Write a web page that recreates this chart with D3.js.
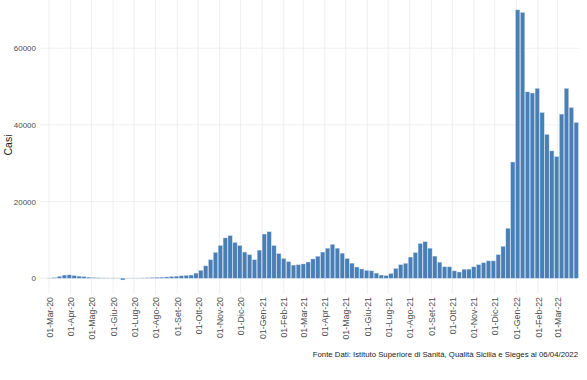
<!DOCTYPE html>
<html>
<head>
<meta charset="utf-8">
<script src="https://cdn.jsdelivr.net/npm/d3@7"></script>
<style>
  body { margin: 0; background: #fff; }
  text { font-family: "Liberation Sans", Arial, sans-serif; }
</style>
</head>
<body>
<div id="chart"></div>
<script>
// weekly periods (monday of each week)
const weeks = [
  "2020-03-02","2020-03-09","2020-03-16","2020-03-23","2020-03-30",
  "2020-04-06","2020-04-13","2020-04-20","2020-04-27",
  "2020-05-04","2020-05-11","2020-05-18","2020-05-25",
  "2020-06-01","2020-06-08","2020-06-15","2020-06-22","2020-06-29",
  "2020-07-06","2020-07-13","2020-07-20","2020-07-27",
  "2020-08-03","2020-08-10","2020-08-17","2020-08-24","2020-08-31",
  "2020-09-07","2020-09-14","2020-09-21","2020-09-28",
  "2020-10-05","2020-10-12","2020-10-19","2020-10-26",
  "2020-11-02","2020-11-09","2020-11-16","2020-11-23","2020-11-30",
  "2020-12-07","2020-12-14","2020-12-21","2020-12-28",
  "2021-01-04","2021-01-11","2021-01-18","2021-01-25",
  "2021-02-01","2021-02-08","2021-02-15","2021-02-22",
  "2021-03-01","2021-03-08","2021-03-15","2021-03-22","2021-03-29",
  "2021-04-05","2021-04-12","2021-04-19","2021-04-26",
  "2021-05-03","2021-05-10","2021-05-17","2021-05-24","2021-05-31",
  "2021-06-07","2021-06-14","2021-06-21","2021-06-28",
  "2021-07-05","2021-07-12","2021-07-19","2021-07-26",
  "2021-08-02","2021-08-09","2021-08-16","2021-08-23","2021-08-30",
  "2021-09-06","2021-09-13","2021-09-20","2021-09-27",
  "2021-10-04","2021-10-11","2021-10-18","2021-10-25",
  "2021-11-01","2021-11-08","2021-11-15","2021-11-22","2021-11-29",
  "2021-12-06","2021-12-13","2021-12-20","2021-12-27",
  "2022-01-03","2022-01-10","2022-01-17","2022-01-24","2022-01-31",
  "2022-02-07","2022-02-14","2022-02-21","2022-02-28",
  "2022-03-07","2022-03-14","2022-03-21","2022-03-28"
];

// weekly cases
const casi = [
  20, 120, 450, 800, 850,
  650, 500, 380, 250,
  150, 90, 60, 40,
  30, 20, -450, 15, 25,
  30, 50, 80, 150,
  200, 250, 300, 400, 500,
  600, 700, 800, 1300,
  2000, 3200, 4800, 6700,
  8500, 10500, 11100, 9300, 8500,
  6800, 6100, 4800, 7300,
  11500, 12100, 8500, 6400,
  5100, 4300, 3400, 3500,
  3700, 4200, 5000, 5700, 6800,
  7800, 8800, 7800, 6500,
  5100, 3900, 2900, 2400, 2000,
  1900, 1300, 800, 650,
  1200, 2500, 3500, 3850,
  5500, 6650, 9000, 9500, 7800,
  5750, 4150, 2950, 2950,
  1900, 1600, 2300, 2350,
  2950, 3500, 4000, 4500, 4500,
  6100, 8300, 13000, 30300,
  70000, 69300, 48600, 48300, 49500,
  43200, 37500, 33200, 31700,
  42800, 49500, 44500, 40600
];

const mesi = ["Gen","Feb","Mar","Apr","Mag","Giu","Lug","Ago","Set","Ott","Nov","Dic"];
const yTicks = [0, 20000, 40000, 60000];
const yTitle = "Casi";
const caption = "Fonte Dati: Istituto Superiore di Sanità, Qualità Sicilia e Sieges al 06/04/2022";

const W = 587, H = 380;
const panel = {left: 40, right: 579, top: -3.5, bottom: 293.5};

const parse = d3.timeParse("%Y-%m-%d");
const data = weeks.map((w, i) => ({date: parse(w), value: casi[i]}));

const itLocale = d3.timeFormatLocale({
  dateTime: "%A %e %B %Y, %X", date: "%d/%m/%Y", time: "%H:%M:%S",
  periods: ["AM", "PM"],
  days: ["Domenica","Lunedì","Martedì","Mercoledì","Giovedì","Venerdì","Sabato"],
  shortDays: ["Dom","Lun","Mar","Mer","Gio","Ven","Sab"],
  months: ["Gennaio","Febbraio","Marzo","Aprile","Maggio","Giugno","Luglio","Agosto","Settembre","Ottobre","Novembre","Dicembre"],
  shortMonths: mesi
});
const fmt = itLocale.format("%d-%b-%y");

const svg = d3.select("#chart")
  .append("svg")
  .attr("width", W)
  .attr("height", H);

const x = d3.scaleTime()
  .domain([new Date(2020, 1, 17), new Date(2022, 3, 1)])
  .range([panel.left, panel.right]);

const y = d3.scaleLinear()
  .domain([-4000, 73500])
  .range([panel.bottom, panel.top]);

const monthTicks = d3.timeMonth.range(new Date(2020, 2, 1), new Date(2022, 2, 2));

// grid
const grid = svg.append("g");
grid.selectAll(".vg")
  .data(monthTicks)
  .enter().append("line")
  .attr("x1", d => x(d)).attr("x2", d => x(d))
  .attr("y1", Math.max(0, panel.top)).attr("y2", panel.bottom)
  .style("stroke", "#ebebeb")
  .style("stroke-width", 0.8);

grid.selectAll(".hg")
  .data(yTicks)
  .enter().append("line")
  .attr("x1", panel.left).attr("x2", panel.right)
  .attr("y1", d => y(d)).attr("y2", d => y(d))
  .style("stroke", "#ebebeb")
  .style("stroke-width", 0.8);

// bars
const barW = x(d3.timeDay.offset(data[0].date, 6.3)) - x(data[0].date);
svg.append("g")
  .selectAll("rect")
  .data(data)
  .enter().append("rect")
  .attr("x", d => x(d.date) - barW / 2)
  .attr("y", d => y(Math.max(0, d.value)))
  .attr("width", barW)
  .attr("height", d => Math.abs(y(d.value) - y(0)))
  .style("fill", "#4a7fb5")
  .style("stroke", "#b9cfe6")
  .style("stroke-width", 0.35);

// x axis
const xAxis = svg.append("g")
  .attr("transform", "translate(0," + panel.bottom + ")")
  .call(d3.axisBottom(x).tickValues(monthTicks).tickFormat(fmt).tickSize(0));
xAxis.select(".domain").remove();
xAxis.selectAll("text")
  .attr("transform", "rotate(-90)")
  .attr("text-anchor", "end")
  .attr("x", -3.5)
  .attr("y", 0)
  .attr("dy", "0.35em")
  .style("font-size", "8.8px")
  .style("fill", "#4d4d4d");

// y axis
const yAxis = svg.append("g")
  .attr("transform", "translate(" + panel.left + ",0)")
  .call(d3.axisLeft(y).tickValues(yTicks).tickFormat(d3.format("d")).tickSize(0));
yAxis.select(".domain").remove();
yAxis.selectAll("text")
  .attr("x", -4)
  .style("font-size", "8px")
  .style("fill", "#4d4d4d");

svg.append("text")
  .attr("transform", "rotate(-90)")
  .attr("x", -145)
  .attr("y", 12)
  .attr("text-anchor", "middle")
  .style("font-size", "10.5px")
  .style("fill", "#1a1a1a")
  .text(yTitle);

svg.append("text")
  .attr("x", 578)
  .attr("y", 357)
  .attr("text-anchor", "end")
  .style("font-size", "7.8px")
  .style("fill", "#1a1a1a")
  .text(caption);
</script>
</body>
</html>
